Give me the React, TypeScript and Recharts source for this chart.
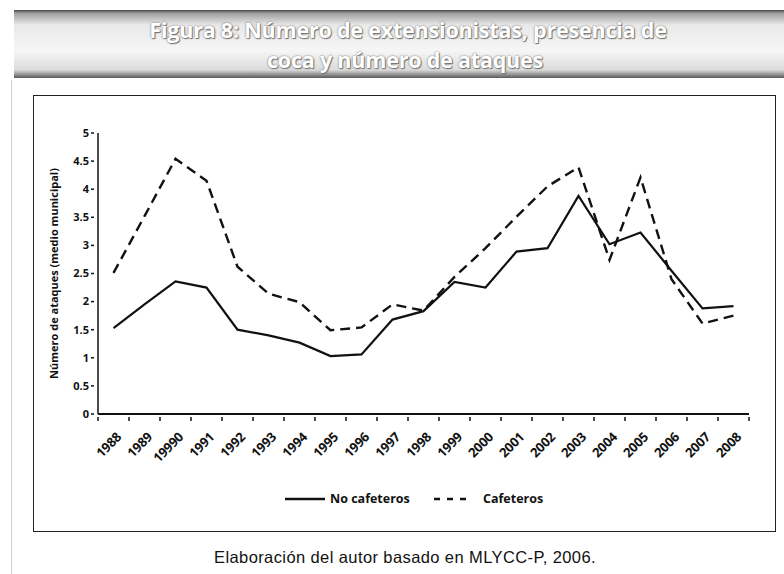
import React from "react";
import { LineChart, Line, XAxis, YAxis } from "recharts";

// años tal como aparecen en la figura (incluye la errata "19990")
const years = [
  "1988", "1989", "19990", "1991", "1992", "1993", "1994", "1995", "1996", "1997", "1998",
  "1999", "2000", "2001", "2002", "2003", "2004", "2005", "2006", "2007", "2008",
];

// número de ataques (medio municipal)
const noCafeteros = [
  1.53, 1.95, 2.36, 2.25, 1.5, 1.4, 1.27, 1.03, 1.06, 1.68, 1.83,
  2.35, 2.25, 2.89, 2.95, 3.88, 3.02, 3.23, 2.55, 1.88, 1.92,
];
const cafeteros = [
  2.51, 3.52, 4.54, 4.15, 2.62, 2.14, 1.99, 1.49, 1.54, 1.95, 1.84,
  2.44, 2.95, 3.51, 4.05, 4.39, 2.74, 4.21, 2.4, 1.61, 1.75,
];

const yTicks = [0, 0.5, 1, 1.5, 2, 2.5, 3, 3.5, 4, 4.5, 5];

const data = years.map((year, i) => ({
  x: i,
  year,
  noCafeteros: noCafeteros[i],
  cafeteros: cafeteros[i],
}));

// marcas del eje x entre categorías
const xBoundaries = [...years.map((_, i) => i - 0.5), years.length - 0.5];

const FONT = "'Open Sans', sans-serif";

const XTick = (props: any) => {
  const { x, y, payload } = props;
  const label = years[payload.value + 0.5];
  return (
    <g>
      <line x1={x} x2={x} y1={y + 3} y2={y + 7} stroke="#111" strokeWidth={1.5} />
      {label && (
        <text
          transform={`translate(${x + 24},${y + 24}) rotate(-45)`}
          textAnchor="end"
          fontFamily={FONT}
          fontWeight={700}
          fontSize={13}
          letterSpacing={-0.3}
          fill="#111"
        >
          {label}
        </text>
      )}
    </g>
  );
};

const YTick = (props: any) => {
  const { x, y, payload } = props;
  return (
    <g>
      <line x1={x - 7} x2={x - 4} y1={y} y2={y} stroke="#111" strokeWidth={1.5} />
      <text
        x={x - 9}
        y={y}
        dy="0.35em"
        textAnchor="end"
        fontFamily={FONT}
        fontWeight={700}
        fontSize={11}
        fill="#111"
      >
        {payload.value}
      </text>
    </g>
  );
};

const YLabel = (props: any) => {
  const { viewBox } = props;
  const cy = viewBox.y + viewBox.height / 2;
  return (
    <text
      transform={`translate(58,${cy}) rotate(-90)`}
      textAnchor="middle"
      fontFamily={FONT}
      fontWeight={700}
      fontSize={11}
      fill="#111"
    >
      Número de ataques (medio municipal)
    </text>
  );
};

const LegendItem: React.FC<{ dashed?: boolean; label: string; left: number; textLeft: number }> = ({
  dashed,
  label,
  left,
  textLeft,
}) => (
  <>
    <svg style={{ position: "absolute", left, top: 493, width: 40, height: 12 }}>
      <line
        x1={0}
        x2={dashed ? 34 : 40}
        y1={6}
        y2={6}
        stroke="#111"
        strokeWidth={2.5}
        strokeDasharray={dashed ? "6 7" : undefined}
      />
    </svg>
    <div
      style={{
        position: "absolute",
        left: textLeft,
        top: 490,
        fontFamily: FONT,
        fontWeight: 700,
        fontSize: 12.5,
        color: "#111",
        lineHeight: "18px",
        whiteSpace: "nowrap",
      }}
    >
      {label}
    </div>
  </>
);

const App: React.FC = () => {
  return (
    <div
      style={{
        position: "absolute",
        left: 0,
        top: 0,
        width: 784,
        height: 574,
        background: "#fff",
        overflow: "hidden",
      }}
    >
      {/* banda del título */}
      <div
        style={{
          position: "absolute",
          left: 14,
          top: 10,
          width: 770,
          height: 68,
          background:
            "linear-gradient(to bottom, #4a4a4a 0%, #a0a0a0 5%, #e9e9e9 22%, #f6f6f6 60%, #dcdcdc 88%, #5a5a5a 100%)",
          textAlign: "center",
          fontFamily: FONT,
          fontWeight: 700,
          fontSize: 21.5,
          letterSpacing: -0.2,
          lineHeight: "30px",
          color: "#fff",
          textShadow: "0 0 2px #666, 1px 1px 1px #777",
          paddingTop: 5,
          boxSizing: "border-box",
        }}
      >
        <div style={{ marginLeft: 18 }}>Figura 8: Número de extensionistas, presencia de</div>
        <div style={{ marginLeft: 12 }}>coca y número de ataques</div>
      </div>

      {/* línea del borde de página */}
      <div style={{ position: "absolute", left: 11, top: 80, width: 1, height: 494, background: "#cfcfcf" }} />

      {/* marco del gráfico */}
      <div
        style={{
          position: "absolute",
          left: 33,
          top: 95,
          width: 743,
          height: 437,
          border: "1.5px solid #222",
          boxSizing: "border-box",
        }}
      />

      <div style={{ position: "absolute", left: 0, top: 0 }}>
        <LineChart
          width={784}
          height={574}
          data={data}
          margin={{ top: 133, right: 35, bottom: 130, left: 58 }}
        >
          <XAxis
            type="number"
            dataKey="x"
            domain={[-0.5, years.length - 0.5]}
            ticks={xBoundaries}
            interval={0}
            tickLine={false}
            tickSize={0}
            tickMargin={0}
            tick={<XTick />}
            height={30}
            axisLine={{ stroke: "#111", strokeWidth: 2 }}
          />
          <YAxis
            type="number"
            domain={[0, 5]}
            ticks={yTicks}
            interval={0}
            tickLine={false}
            tickSize={0}
            tickMargin={0}
            tick={<YTick />}
            width={40}
            axisLine={{ stroke: "#111", strokeWidth: 1.5 }}
            label={<YLabel />}
          />
          <Line
            type="linear"
            dataKey="noCafeteros"
            stroke="#111"
            strokeWidth={2.2}
            dot={false}
            isAnimationActive={false}
          />
          <Line
            type="linear"
            dataKey="cafeteros"
            stroke="#111"
            strokeWidth={2.4}
            strokeDasharray="10 6"
            dot={false}
            isAnimationActive={false}
          />
        </LineChart>
      </div>

      <LegendItem label="No cafeteros" left={285} textLeft={330} />
      <LegendItem dashed label="Cafeteros" left={434} textLeft={483} />

      <div
        style={{
          position: "absolute",
          left: 0,
          width: 810,
          top: 548,
          textAlign: "center",
          fontFamily: "'Liberation Sans', Arial, sans-serif",
          fontSize: 16.5,
          letterSpacing: 0.4,
          color: "#111",
          lineHeight: "18px",
        }}
      >
        Elaboración del autor basado en MLYCC-P, 2006.
      </div>
    </div>
  );
};

export default App;
